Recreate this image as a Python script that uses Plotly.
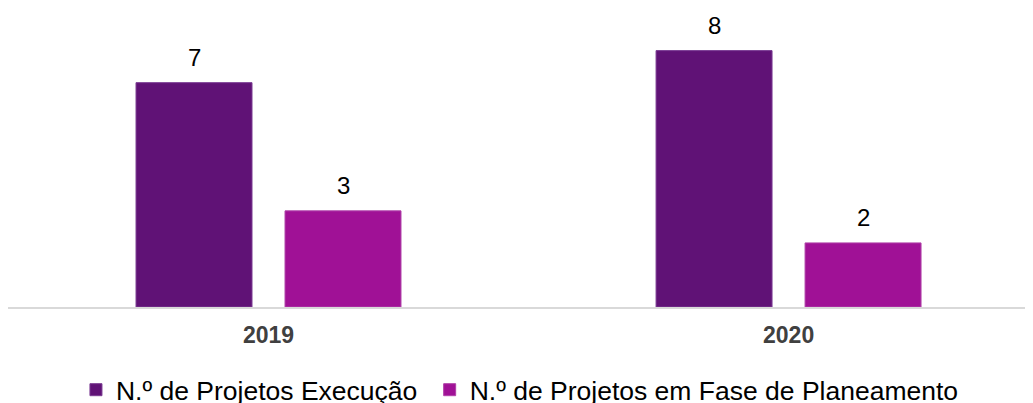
import plotly.graph_objects as go

years = ["2019", "2020"]
execucao = [7, 8]
planeamento = [3, 2]
series_names = ["N.º de Projetos Execução", "N.º de Projetos em Fase de Planeamento"]
colors = ["#601276", "#A01196"]
edge_colors = ["#7A3A92", "#B040A8"]

BAR_W = 0.223
BAR_OFFSETS = [-0.2548, 0.0317]
LEGEND_PAD = ["\u00a0", ""]

fig = go.Figure()
for vals, name, col, ecol, off, pad in zip([execucao, planeamento], series_names, colors,
                                           edge_colors, BAR_OFFSETS, LEGEND_PAD):
    fig.add_trace(go.Bar(
        x=list(range(len(years))), y=vals, name=name + pad,
        width=BAR_W, offset=off,
        marker=dict(color=col, line=dict(color=ecol, width=1)),
        hovertemplate=name + ": %{y}<extra></extra>",
    ))
    for i, v in enumerate(vals):
        fig.add_annotation(
            x=i + off + BAR_W / 2, y=v, xref="x", yref="y",
            text=str(v), showarrow=False, yanchor="bottom", yshift=10,
            font=dict(family="Liberation Sans, Arial", size=24, color="#000000"),
        )

# page body has an 8px margin, so the figure is 8px smaller than the window
fig.update_layout(
    width=1025, height=395,
    margin=dict(l=0, r=0, t=0, b=96),
    paper_bgcolor="white", plot_bgcolor="white",
    barmode="overlay",
    showlegend=True,
    legend=dict(
        orientation="h", x=0.0663, xanchor="left",
        y=0.033, yref="container", yanchor="middle",
        font=dict(family="Liberation Sans, Arial", size=26.5, color="#000000"),
    ),
    xaxis=dict(
        range=[-0.501, 1.47], tickmode="array",
        tickvals=list(range(len(years))), ticktext=[f"<b>{y}</b>" for y in years],
        tickfont=dict(family="Liberation Sans, Arial", size=23, color="#404040"),
        ticklabelstandoff=6,
        showline=True, linecolor="#D9D9D9", linewidth=2,
        showgrid=False, zeroline=False, ticks="", fixedrange=True,
    ),
    yaxis=dict(
        range=[0, 9.33], visible=False, showgrid=False, zeroline=False, fixedrange=True,
    ),
)

fig.write_html("out.html")
